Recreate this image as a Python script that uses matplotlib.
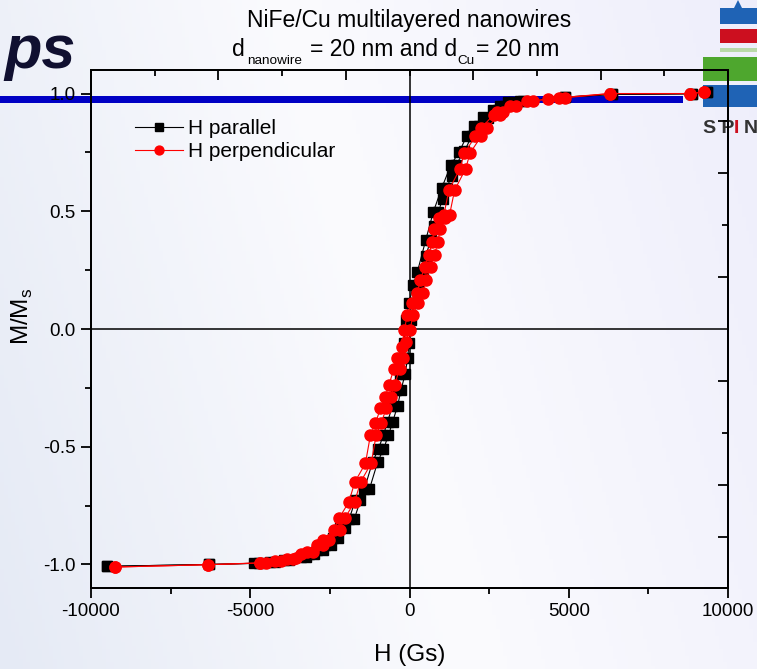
import matplotlib
matplotlib.use("Agg")
import matplotlib.pyplot as plt
from matplotlib.patches import Rectangle, Polygon
import numpy as np

plt.rcParams["font.family"] = ["Liberation Sans", "DejaVu Sans"]
plt.rcParams["mathtext.fontset"] = "custom"
plt.rcParams["mathtext.rm"] = "Liberation Sans"

# H parallel (black squares): descending and ascending branches
par_dn_h = [9330, 8860, 6350, 4880, 3470, 3100, 2850, 2610, 2320, 2030, 1800,
            1560, 1300, 1010, 750, 510, 250, 120, -10, -120, -170, -220, -295,
            -430, -535, -690, -820, -980, -1160, -1420, -1700, -1900, -2170,
            -2390, -2640, -2890, -3150, -3420, -3940, -4370, -4880, -6300, -9500]
par_dn_m = [1.006, 0.999, 0.996, 0.985, 0.968, 0.962, 0.948, 0.930, 0.900,
            0.862, 0.820, 0.752, 0.697, 0.598, 0.498, 0.378, 0.244, 0.187,
            0.112, 0.038, -0.060, -0.123, -0.191, -0.260, -0.328, -0.394,
            -0.451, -0.511, -0.565, -0.681, -0.728, -0.809, -0.846, -0.889,
            -0.919, -0.940, -0.957, -0.969, -0.983, -0.990, -0.995, -1.000,
            -1.008]
par_up_h = [-9500, -6300, -4720, -4210, -3780, -3260, -2990, -2730, -2480,
            -2230, -2010, -1740, -1540, -1260, -1000, -820, -660, -530, -375,
            -270, -135, -60, -10, 40, 150, 280, 410, 510, 670, 780, 910, 1040,
            1170, 1320, 1460, 1720, 1960, 2190, 2480, 2770, 3010, 3260, 3550,
            4880, 6350, 8860, 9330]
par_up_m = [-1.008, -1.000, -0.995, -0.990, -0.983, -0.969, -0.957, -0.940,
            -0.919, -0.889, -0.846, -0.809, -0.728, -0.681, -0.565, -0.511,
            -0.451, -0.394, -0.328, -0.260, -0.191, -0.123, -0.060, 0.038,
            0.112, 0.187, 0.244, 0.311, 0.379, 0.438, 0.499, 0.552, 0.599,
            0.650, 0.698, 0.754, 0.821, 0.864, 0.897, 0.932, 0.949, 0.963,
            0.967, 0.985, 0.996, 0.999, 1.006]

# H perpendicular (red circles)
perp_dn_h = [9248, 8808, 6296, 4690, 3700, 3170, 2750, 2650, 2250, 2070, 1725,
             1580, 1235, 1080, 920, 783, 711, 607, 481, 343, 240, 83, -74,
             -159, -231, -388, -492, -649, -756, -913, -1070, -1227, -1384,
             -1717, -1905, -2200, -2376, -2712, -2900, -3214, -3403, -3842,
             -4219, -4690, -6318, -9248]
perp_dn_m = [1.006, 1.000, 1.000, 0.982, 0.967, 0.949, 0.920, 0.911, 0.854,
             0.818, 0.748, 0.680, 0.589, 0.485, 0.471, 0.424, 0.371, 0.315,
             0.265, 0.209, 0.154, 0.109, 0.060, -0.004, -0.075, -0.125,
             -0.171, -0.238, -0.288, -0.337, -0.401, -0.451, -0.571, -0.650,
             -0.735, -0.801, -0.852, -0.898, -0.919, -0.948, -0.957, -0.976,
             -0.986, -0.993, -1.001, -1.011]
perp_up_h = [-9248, -6318, -4708, -4510, -4039, -3662, -3568, -3034, -2720,
             -2532, -2196, -2020, -1725, -1537, -1204, -1047, -890, -733, -576,
             -469, -312, -208, -124, 21, 106, 263, 420, 523, 661, 787, 891, 963,
             1101, 1258, 1415, 1760, 1905, 2250, 2429, 2828, 2932, 3349, 3874,
             4345, 4869, 6296, 8808, 9248]
perp_up_m = [-1.011, -1.001, -0.994, -0.993, -0.986, -0.976, -0.971, -0.948,
             -0.919, -0.898, -0.852, -0.801, -0.735, -0.650, -0.571, -0.451,
             -0.401, -0.337, -0.288, -0.238, -0.171, -0.125, -0.054, -0.004,
             0.060, 0.109, 0.154, 0.209, 0.265, 0.315, 0.371, 0.424, 0.471,
             0.485, 0.589, 0.680, 0.748, 0.818, 0.854, 0.911, 0.920, 0.949,
             0.967, 0.977, 0.982, 1.000, 1.000, 1.006]

x_ticks = [-10000, -5000, 0, 5000, 10000]
y_ticks = [-1.0, -0.5, 0.0, 0.5, 1.0]
top_major = [-6000, -2000, 2000, 6000]
top_minor = [-8000, -4000, 0, 4000, 8000]
right_major = [-0.884, -0.663, -0.221, 0.221, 0.663, 0.884]
right_minor = [-0.442, 0.442]

W, H = 757, 669
fig = plt.figure(figsize=(W / 100, H / 100), dpi=100)

# slide background
bg = fig.add_axes([0, 0, 1, 1], zorder=-1)
bg.set_xlim(0, W)
bg.set_ylim(H, 0)
bg.axis("off")
gx = np.linspace(0, 1, 200)
gy = np.linspace(0, 1, 200)
GX, GY = np.meshgrid(gx, gy)
t = np.clip(GX * 0.8 + (1 - GY) * 0.2, 0, 1)
left = np.array([229, 234, 245]) / 255
mid = np.array([251, 251, 254]) / 255
right = np.array([238, 238, 251]) / 255
w1 = np.clip(1 - t / 0.5, 0, 1)[..., None]
w3 = np.clip((t - 0.5) / 0.5, 0, 1)[..., None]
img = left * w1 + right * w3 + mid * (1 - w1 - w3)
bg.imshow(img, extent=[0, W, H, 0], aspect="auto", zorder=0)
bg.add_patch(Rectangle((0, 95.5), 683, 7.5, color="#0000c4", lw=0, zorder=1))

# logo
bg.add_patch(Polygon([(720, 8), (734, 8), (738, 0), (742, 8), (757, 8),
                      (757, 24), (720, 24)], closed=True, color="#1f63b5",
                     lw=0, zorder=1))
bg.add_patch(Rectangle((720, 29), 37, 14, color="#cc0f1f", lw=0, zorder=1))
bg.add_patch(Rectangle((720, 48), 37, 4, color="#b9d9a8", lw=0, zorder=1))
bg.add_patch(Rectangle((703, 57), 54, 24, color="#4ea72e", lw=0, zorder=1))
bg.add_patch(Rectangle((703, 85), 54, 22, color="#1f63b5", lw=0, zorder=1))
bg.text(703, 133, "S P", fontsize=14, fontweight="bold", color="#333333",
        va="baseline", ha="left", zorder=2)
bg.text(734, 133, "I", fontsize=14, fontweight="bold", color="#cc0f1f",
        va="baseline", ha="left", zorder=2)
bg.text(744, 133, "N", fontsize=14, fontweight="bold", color="#333333",
        va="baseline", ha="left", zorder=2)
bg.text(76, 68, "ps", fontsize=44, fontweight="bold", fontstyle="italic",
        color="#101030", ha="right", va="baseline", zorder=2)

# chart
ax = fig.add_axes([91 / W, 1 - 588 / H, 637 / W, 518 / H])
ax.set_facecolor("none")
ax.axhline(0, color="black", lw=1.1, zorder=1)
ax.axvline(0, color="black", lw=1.1, zorder=1)

ax.plot(par_dn_h, par_dn_m, color="black", lw=0.8, marker="s", ms=6.5,
        mec="black", mfc="black", label="H parallel", zorder=3)
ax.plot(par_up_h, par_up_m, color="black", lw=0.8, marker="s", ms=6.5,
        mec="black", mfc="black", zorder=3)
ax.plot(perp_dn_h, perp_dn_m, color="red", lw=0.8, marker="o", ms=8,
        mec="red", mfc="red", label="H perpendicular", zorder=4)
ax.plot(perp_up_h, perp_up_m, color="red", lw=0.8, marker="o", ms=8,
        mec="red", mfc="red", zorder=4)

ax.set_xlim(-10000, 10000)
ax.set_ylim(-1.1, 1.1)
ax.set_xticks(x_ticks)
ax.set_xticklabels([str(v) for v in x_ticks])
ax.set_yticks(y_ticks)
ax.set_yticklabels(["%.1f" % v for v in y_ticks])
ax.set_xticks(np.arange(-7500, 10000, 5000), minor=True)
ax.set_yticks([-0.75, -0.25, 0.25, 0.75], minor=True)
ax.tick_params(which="major", direction="out", length=7, width=1.3,
               labelsize=13.5, pad=4)
ax.tick_params(which="minor", direction="out", length=4, width=1.3)
for s in ax.spines.values():
    s.set_linewidth(1.4)

axt = ax.twiny()
axt.set_xlim(-10000, 10000)
axt.set_xticks(top_major)
axt.set_xticks(top_minor, minor=True)
axt.tick_params(which="major", direction="in", length=7, width=1.3,
                labeltop=False)
axt.tick_params(which="minor", direction="in", length=4, width=1.3)

axr = ax.twinx()
axr.set_ylim(-1.1, 1.1)
axr.set_yticks(right_major)
axr.set_yticks(right_minor, minor=True)
axr.tick_params(which="major", direction="in", length=7, width=1.3,
                labelright=False)
axr.tick_params(which="minor", direction="in", length=4, width=1.3)
for a in (axt, axr):
    for s in a.spines.values():
        s.set_linewidth(1.4)

ax.set_xlabel("H (Gs)", fontsize=17.5)
ax.xaxis.set_label_coords(0.5, -0.108)
ax.set_ylabel(r"M/M$_{\mathregular{s}}$", fontsize=17.5)
ax.yaxis.set_label_coords(-0.088, 0.525)

leg = ax.legend(loc="upper left", bbox_to_anchor=(0.069, 0.905),
                frameon=False, fontsize=15, handlelength=2.3,
                handletextpad=0.25, labelspacing=0.2, borderpad=0,
                borderaxespad=0, markerscale=0.8)

# title, first line
bg.text(409, 27, "NiFe/Cu multilayered nanowires", fontsize=16.5,
        ha="center", va="baseline")

# title, second line: Origin-style small, lowered subscripts
renderer = fig.canvas.get_renderer()
pieces = [("d", 16.5, 0, 2), ("nanowire", 9.7, 8, 8),
          ("= 20 nm and d", 16.5, 0, 1), ("Cu", 9.7, 8, 1),
          ("= 20 nm", 16.5, 0, 0)]
xpos = 232
for txt, size, drop, gap in pieces:
    tt = bg.text(xpos, 56 + drop, txt, fontsize=size, ha="left",
                 va="baseline")
    bb = tt.get_window_extent(renderer)
    xpos += bb.width + gap

fig.savefig("out.png", dpi=100)
